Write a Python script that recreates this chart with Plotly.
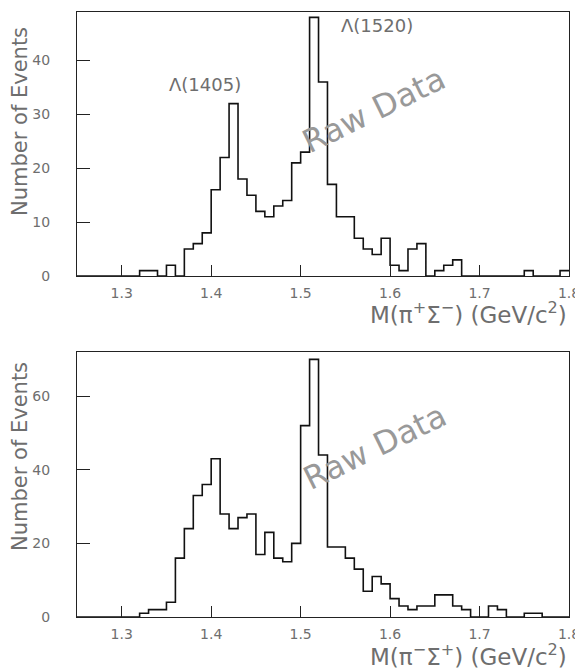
import plotly.graph_objects as go

# Bin definition: 0.01 GeV bins from 1.25 to 1.80
bin_start = 1.25
bin_width = 0.01
n_bins = 55

# Counts per bin, pi+ Sigma- (top)
counts_top = [0, 0, 0, 0, 0, 0, 0, 1, 1, 0,
              2, 0, 5, 6, 8, 16, 22, 32, 18, 15,
              12, 11, 13, 14, 21, 23, 48, 36, 17, 11,
              11, 7, 5, 4, 7, 2, 1, 5, 6, 0,
              1, 2, 3, 0, 0, 0, 0, 0, 0, 0,
              1, 0, 0, 0, 1]

# Counts per bin, pi- Sigma+ (bottom)
counts_bot = [0, 0, 0, 0, 0, 0, 0, 1, 2, 2,
              4, 16, 24, 33, 36, 43, 28, 24, 27, 28,
              17, 23, 16, 15, 20, 52, 70, 44, 19, 19,
              16, 13, 7, 11, 9, 5, 3, 2, 3, 3,
              6, 6, 3, 2, 0, 0, 3, 2, 0, 0,
              1, 1, 0, 0, 0]

x_ticks = [1.3, 1.4, 1.5, 1.6, 1.7, 1.8]
y_ticks_top = [0, 10, 20, 30, 40]
y_ticks_bot = [0, 20, 40, 60]

edges = [round(bin_start + bin_width * i, 2) for i in range(n_bins + 1)]

TXT = "#6e6e6e"
FONT = "DejaVu Sans"

fig = go.Figure()
fig.add_trace(go.Scatter(x=edges, y=counts_top + [counts_top[-1]], mode="lines",
                         line=dict(shape="hv", color="#111111", width=1.6),
                         xaxis="x", yaxis="y", showlegend=False, hoverinfo="skip"))
fig.add_trace(go.Scatter(x=edges, y=counts_bot + [counts_bot[-1]], mode="lines",
                         line=dict(shape="hv", color="#111111", width=1.6),
                         xaxis="x2", yaxis="y2", showlegend=False, hoverinfo="skip"))

# page has an 8px body margin: figure is offset by 8px
OFF = 8
W, H = 583 - OFF, 671 - OFF
L, R = 77 - OFF, 14
T = 12 - OFF
B = H - (617 - OFF)
ph = H - T - B
pw = W - L - R


def py(p):  # reference picture y -> paper
    return (H - B - (p - OFF)) / ph


def px(p):  # reference picture x -> paper
    return (p - OFF - L) / pw


top_dom = [py(276), 1.0]
bot_dom = [0.0, py(352)]

xaxis_common = dict(range=[1.25, 1.8], tickvals=x_ticks, ticktext=[f"{v:.1f}" for v in x_ticks],
                    ticks="inside", ticklen=11, tickwidth=1.2, tickcolor="#222222",
                    showline=True, linecolor="#222222", linewidth=1.2, mirror=True,
                    showgrid=False, zeroline=False,
                    tickfont=dict(family=FONT, size=14, color=TXT), ticklabelstandoff=4)
yaxis_common = dict(ticks="inside", ticklen=13, tickwidth=1.2, tickcolor="#222222",
                    showline=True, linecolor="#222222", linewidth=1.2, mirror=True,
                    showgrid=False, zeroline=False,
                    tickfont=dict(family=FONT, size=14, color=TXT), ticklabelstandoff=23)

fig.update_layout(
    width=W, height=H, autosize=False,
    margin=dict(l=L, r=R, t=T, b=B),
    paper_bgcolor="white", plot_bgcolor="white",
    xaxis=dict(**xaxis_common, domain=[0, 1], anchor="y"),
    yaxis=dict(**yaxis_common, domain=top_dom, range=[0, 49], tickvals=y_ticks_top, anchor="x"),
    xaxis2=dict(**xaxis_common, domain=[0, 1], anchor="y2"),
    yaxis2=dict(**yaxis_common, domain=bot_dom, range=[0, 72], tickvals=y_ticks_bot, anchor="x2"),
)

ann = []
# y titles
for yc in (122, 457):
    ann.append(dict(text="Number of Events", xref="paper", yref="paper",
                    x=px(20), y=py(yc), textangle=-90,
                    showarrow=False, font=dict(family=FONT, size=21, color=TXT),
                    xanchor="center", yanchor="middle"))
# x titles
ann.append(dict(text="M(π<sup>+</sup>Σ<sup>−</sup>) (GeV/c<sup>2</sup>)", xref="paper", yref="paper",
                x=px(569), y=py(313), showarrow=False,
                font=dict(family=FONT, size=23, color=TXT), xanchor="right", yanchor="middle"))
ann.append(dict(text="M(π<sup>−</sup>Σ<sup>+</sup>) (GeV/c<sup>2</sup>)", xref="paper", yref="paper",
                x=px(569), y=py(655), showarrow=False,
                font=dict(family=FONT, size=23, color=TXT), xanchor="right", yanchor="middle"))
# peak labels
ann.append(dict(text="Λ(1405)", xref="x", yref="y", x=1.393, y=35.6, showarrow=False,
                font=dict(family=FONT, size=18, color=TXT), xanchor="center", yanchor="middle"))
ann.append(dict(text="Λ(1520)", xref="x", yref="y", x=1.585, y=46.5, showarrow=False,
                font=dict(family=FONT, size=18, color=TXT), xanchor="center", yanchor="middle"))
# Raw Data watermark
ann.append(dict(text="Raw Data", xref="x", yref="y", x=1.582, y=30.8, showarrow=False,
                textangle=-26, font=dict(family=FONT, size=32, color="#999999"),
                xanchor="center", yanchor="middle"))
ann.append(dict(text="Raw Data", xref="x2", yref="y2", x=1.583, y=46.2, showarrow=False,
                textangle=-26, font=dict(family=FONT, size=32, color="#999999"),
                xanchor="center", yanchor="middle"))
fig.update_layout(annotations=ann)

post = ("document.documentElement.style.overflow='hidden';"
        "document.body.style.overflow='hidden';")

fig.write_html("out.html",
               config={"displayModeBar": False, "responsive": False},
               post_script=post)
